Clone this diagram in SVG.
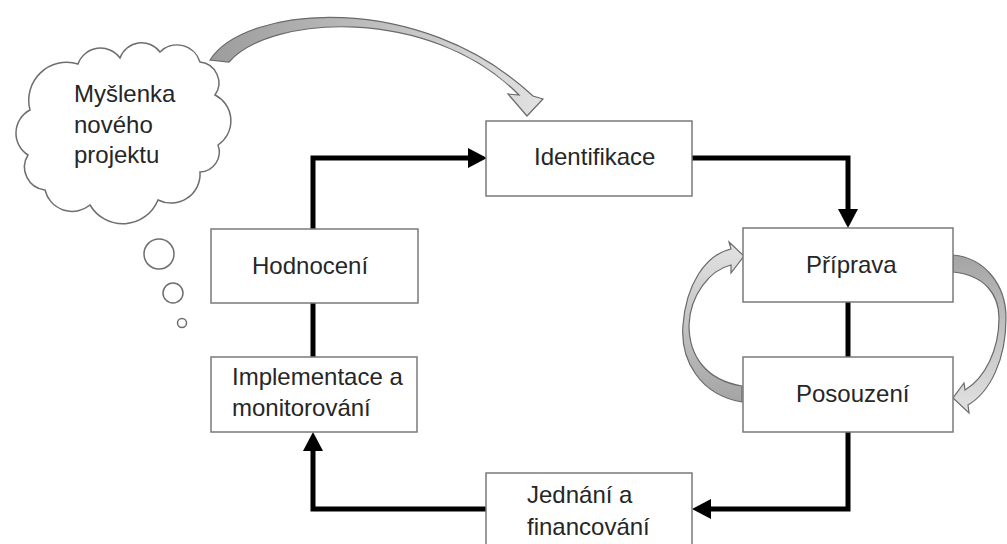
<svg xmlns="http://www.w3.org/2000/svg" width="1007" height="544" viewBox="0 0 1007 544">
<style>
.box{fill:#fff;stroke:#7a7a7a;stroke-width:1.5}
.lbl{font-family:"Liberation Sans",Arial,sans-serif;font-size:24px;fill:#262626}
.con{fill:none;stroke:#000;stroke-width:5;stroke-linejoin:miter}
.bubble{fill:#fff;stroke:#6e6e6e;stroke-width:1.5}
.garrow{stroke:#6a6a6a;stroke-width:1.2}
</style>
<defs>
<marker id="ah" markerUnits="userSpaceOnUse" markerWidth="20" markerHeight="22" refX="0" refY="10" orient="auto">
<path d="M0,0 L19,10 L0,20 Z" fill="#000"/>
</marker>
<linearGradient id="gTop" gradientUnits="userSpaceOnUse" x1="210" y1="0" x2="545" y2="0">
<stop offset="0" stop-color="#9c9c9c"/><stop offset="1" stop-color="#e2e2e2"/>
</linearGradient>
<linearGradient id="gLeft" gradientUnits="userSpaceOnUse" x1="0" y1="402" x2="0" y2="245">
<stop offset="0" stop-color="#a4a4a4"/><stop offset="1" stop-color="#e2e2e2"/>
</linearGradient>
<linearGradient id="gRight" gradientUnits="userSpaceOnUse" x1="0" y1="255" x2="0" y2="413">
<stop offset="0" stop-color="#a4a4a4"/><stop offset="1" stop-color="#e2e2e2"/>
</linearGradient>
</defs>
<rect width="1007" height="544" fill="#fff"/>

<g id="cloud">
<path class="bubble" d="M30,110 A38,38 0 0 1 78,64 A24,24 0 0 1 120,58 A23,23 0 0 1 160,52 A24,24 0 0 1 200,62 A21,21 0 0 1 215,95 A29,29 0 0 1 218,145 A20,20 0 0 1 200,172 A29,29 0 0 1 158,200 A38,38 0 0 1 90,205 A28,28 0 0 1 45,190 A23,23 0 0 1 28,155 A26,26 0 0 1 30,110 Z"/>
<circle class="bubble" cx="159" cy="254" r="15"/>
<circle class="bubble" cx="173" cy="293" r="10"/>
<circle class="bubble" cx="182" cy="323" r="4.5"/>
<text class="lbl" x="74" y="102">Myšlenka</text>
<text class="lbl" x="74" y="133">nového</text>
<text class="lbl" x="74" y="163">projektu</text>
</g>

<g id="connectors">
<path class="con" d="M313,229 L313,158 L468,158" marker-end="url(#ah)"/>
<path class="con" d="M692,158 L848,158 L848,209" marker-end="url(#ah)"/>
<path class="con" d="M848,302 L848,357"/>
<path class="con" d="M848,432 L848,509 L711,509" marker-end="url(#ah)"/>
<path class="con" d="M486,509 L313,509 L313,451" marker-end="url(#ah)"/>
<path class="con" d="M313,357 L313,303"/>
<path class="garrow" fill="url(#gTop)" d="M210,60 C245,5 420,-10 533,96 L543,99 L527,116 L508,94 L519,95 C430,5 270,15 229,62 Z"/>
<path class="garrow" fill="url(#gLeft)" d="M742,402 C700,395 680,360 683,325 C686,285 705,255 731,249 L729,242 L744,256 L731,273 L731,265 C710,270 690,295 689,325 C689,355 705,380 742,386 Z"/>
<path class="garrow" fill="url(#gRight)" d="M953,255 C985,258 1006,285 1006,318 C1006,360 990,392 968,405 L969,413 L953,398 L964,383 L965,390 C985,378 999,350 999,318 C999,295 985,275 953,272 Z"/>
</g>

<g id="identifikace">
<rect class="box" x="486" y="121" width="206" height="75"/>
<text class="lbl" x="534" y="165">Identifikace</text>
</g>
<g id="priprava">
<rect class="box" x="743" y="228" width="210" height="74"/>
<text class="lbl" x="806" y="273">Příprava</text>
</g>
<g id="posouzeni">
<rect class="box" x="743" y="357" width="210" height="75"/>
<text class="lbl" x="796" y="402">Posouzení</text>
</g>
<g id="jednani">
<rect class="box" x="486" y="473" width="206" height="80"/>
<text class="lbl" x="527" y="503">Jednání a</text>
<text class="lbl" x="527" y="535">financování</text>
</g>
<g id="implementace">
<rect class="box" x="211" y="357" width="206" height="75"/>
<text class="lbl" x="232" y="385">Implementace a</text>
<text class="lbl" x="232" y="416">monitorování</text>
</g>
<g id="hodnoceni">
<rect class="box" x="211" y="229" width="207" height="74"/>
<text class="lbl" x="252" y="274">Hodnocení</text>
</g>
</svg>
